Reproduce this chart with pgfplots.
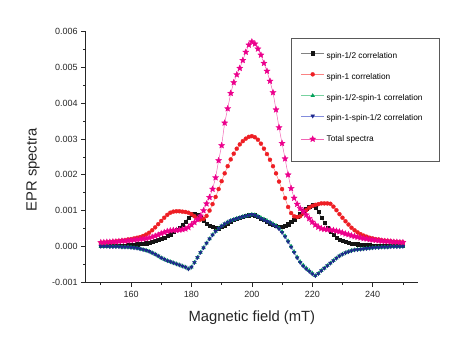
\documentclass[border=0pt]{standalone}
\usepackage{fontspec}
\setmainfont{Liberation Sans}
\usepackage{pgfplots}
\usepackage{pgfplotstable}
\pgfplotsset{compat=1.18}

\definecolor{mblack}{RGB}{20,20,20}
\definecolor{lblack}{RGB}{130,130,130}
\definecolor{mred}{RGB}{238,30,36}
\definecolor{lred}{RGB}{250,130,130}
\definecolor{mgreen}{RGB}{0,160,90}
\definecolor{lgreen}{RGB}{120,210,160}
\definecolor{mblue}{RGB}{30,40,140}
\definecolor{lblue}{RGB}{130,140,220}
\definecolor{mpink}{RGB}{236,0,140}
\definecolor{lpink}{RGB}{242,100,180}

% filled five-pointed star
\pgfdeclareplotmark{fstar}{%
  \pgfpathmoveto{\pgfpointpolar{90}{\pgfplotmarksize}}%
  \pgfpathlineto{\pgfpointpolar{126}{0.45\pgfplotmarksize}}%
  \pgfpathlineto{\pgfpointpolar{162}{\pgfplotmarksize}}%
  \pgfpathlineto{\pgfpointpolar{198}{0.45\pgfplotmarksize}}%
  \pgfpathlineto{\pgfpointpolar{234}{\pgfplotmarksize}}%
  \pgfpathlineto{\pgfpointpolar{270}{0.45\pgfplotmarksize}}%
  \pgfpathlineto{\pgfpointpolar{306}{\pgfplotmarksize}}%
  \pgfpathlineto{\pgfpointpolar{342}{0.45\pgfplotmarksize}}%
  \pgfpathlineto{\pgfpointpolar{18}{\pgfplotmarksize}}%
  \pgfpathlineto{\pgfpointpolar{54}{0.45\pgfplotmarksize}}%
  \pgfpathclose\pgfusepathqfillstroke}

% x  spin-1/2  spin-1  1/2-1  1-1/2  total
\pgfplotstableread{
x   B        R        G         U         T
150 0.00001 0.00010 0.00000 0.00000 0.00011
151 0.00001 0.00011 0.00000 0.00000 0.00011
152 0.00001 0.00011 0.00000 0.00000 0.00012
153 0.00001 0.00012 -0.00001 -0.00001 0.00012
154 0.00002 0.00013 -0.00001 -0.00001 0.00013
155 0.00002 0.00014 -0.00001 -0.00001 0.00013
156 0.00002 0.00015 -0.00001 -0.00001 0.00014
157 0.00003 0.00016 -0.00002 -0.00002 0.00015
158 0.00003 0.00017 -0.00002 -0.00002 0.00015
159 0.00004 0.00019 -0.00002 -0.00002 0.00016
160 0.00004 0.00020 -0.00003 -0.00003 0.00017
161 0.00005 0.00022 -0.00004 -0.00004 0.00018
162 0.00006 0.00024 -0.00005 -0.00005 0.00019
163 0.00007 0.00026 -0.00007 -0.00007 0.00020
164 0.00008 0.00029 -0.00009 -0.00009 0.00021
165 0.00009 0.00033 -0.00011 -0.00011 0.00022
166 0.00011 0.00038 -0.00014 -0.00014 0.00024
167 0.00013 0.00045 -0.00018 -0.00018 0.00026
168 0.00015 0.00053 -0.00022 -0.00022 0.00029
169 0.00018 0.00062 -0.00027 -0.00027 0.00032
170 0.00021 0.00071 -0.00032 -0.00032 0.00036
171 0.00025 0.00080 -0.00036 -0.00036 0.00039
172 0.00029 0.00088 -0.00040 -0.00040 0.00042
173 0.00034 0.00094 -0.00043 -0.00043 0.00044
174 0.00040 0.00097 -0.00046 -0.00046 0.00045
175 0.00046 0.00098 -0.00049 -0.00049 0.00045
176 0.00053 0.00098 -0.00052 -0.00052 0.00046
177 0.00061 0.00097 -0.00055 -0.00055 0.00047
178 0.00070 0.00096 -0.00058 -0.00058 0.00049
179 0.00080 0.00094 -0.00063 -0.00063 0.00053
180 0.00090 0.00090 -0.00058 -0.00058 0.00060
181 0.00092 0.00084 -0.00045 -0.00045 0.00067
182 0.00088 0.00078 -0.00031 -0.00031 0.00075
183 0.00080 0.00075 -0.00017 -0.00017 0.00085
184 0.00072 0.00077 -0.00004 -0.00004 0.00100
185 0.00064 0.00085 0.00009 0.00009 0.00119
186 0.00058 0.00100 0.00021 0.00021 0.00137
187 0.00054 0.00118 0.00032 0.00032 0.00160
188 0.00051 0.00138 0.00042 0.00042 0.00192
189 0.00051 0.00160 0.00050 0.00050 0.00240
190 0.00054 0.00182 0.00057 0.00057 0.00282
191 0.00059 0.00204 0.00063 0.00063 0.00345
192 0.00065 0.00224 0.00068 0.00068 0.00385
193 0.00070 0.00243 0.00072 0.00072 0.00428
194 0.00075 0.00259 0.00075 0.00075 0.00458
195 0.00078 0.00273 0.00078 0.00078 0.00480
196 0.00080 0.00285 0.00080 0.00080 0.00498
197 0.00083 0.00294 0.00083 0.00083 0.00520
198 0.00085 0.00301 0.00085 0.00085 0.00543
199 0.00087 0.00306 0.00087 0.00087 0.00563
200 0.00089 0.00308 0.00089 0.00089 0.00572
201 0.00087 0.00305 0.00088 0.00087 0.00566
202 0.00083 0.00298 0.00084 0.00083 0.00552
203 0.00078 0.00287 0.00080 0.00078 0.00535
204 0.00074 0.00273 0.00076 0.00074 0.00512
205 0.00069 0.00258 0.00072 0.00070 0.00490
206 0.00064 0.00242 0.00068 0.00066 0.00462
207 0.00060 0.00224 0.00063 0.00061 0.00430
208 0.00057 0.00204 0.00058 0.00056 0.00382
209 0.00056 0.00181 0.00051 0.00049 0.00332
210 0.00056 0.00160 0.00041 0.00039 0.00288
211 0.00058 0.00135 0.00029 0.00027 0.00245
212 0.00062 0.00110 0.00015 0.00013 0.00200
213 0.00068 0.00093 0.00000 -0.00002 0.00162
214 0.00075 0.00084 -0.00015 -0.00017 0.00135
215 0.00083 0.00082 -0.00030 -0.00032 0.00118
216 0.00092 0.00084 -0.00043 -0.00045 0.00106
217 0.00099 0.00092 -0.00053 -0.00055 0.00098
218 0.00106 0.00101 -0.00061 -0.00063 0.00088
219 0.00112 0.00108 -0.00068 -0.00070 0.00078
220 0.00115 0.00113 -0.00075 -0.00077 0.00068
221 0.00108 0.00116 -0.00082 -0.00082 0.00060
222 0.00096 0.00118 -0.00076 -0.00076 0.00054
223 0.00081 0.00120 -0.00068 -0.00068 0.00050
224 0.00066 0.00120 -0.00061 -0.00061 0.00048
225 0.00052 0.00120 -0.00054 -0.00054 0.00047
226 0.00041 0.00119 -0.00047 -0.00047 0.00046
227 0.00032 0.00111 -0.00040 -0.00040 0.00045
228 0.00025 0.00101 -0.00033 -0.00033 0.00043
229 0.00019 0.00090 -0.00027 -0.00027 0.00041
230 0.00015 0.00080 -0.00022 -0.00022 0.00038
231 0.00012 0.00070 -0.00018 -0.00018 0.00035
232 0.00010 0.00061 -0.00015 -0.00015 0.00033
233 0.00008 0.00052 -0.00012 -0.00012 0.00030
234 0.00007 0.00045 -0.00010 -0.00010 0.00028
235 0.00006 0.00039 -0.00009 -0.00009 0.00026
236 0.00005 0.00034 -0.00008 -0.00008 0.00024
237 0.00005 0.00030 -0.00007 -0.00007 0.00022
238 0.00004 0.00027 -0.00006 -0.00006 0.00021
239 0.00004 0.00024 -0.00005 -0.00005 0.00019
240 0.00003 0.00022 -0.00004 -0.00004 0.00018
241 0.00003 0.00020 -0.00003 -0.00003 0.00017
242 0.00003 0.00019 -0.00003 -0.00003 0.00016
243 0.00002 0.00017 -0.00002 -0.00002 0.00015
244 0.00002 0.00016 -0.00002 -0.00002 0.00014
245 0.00002 0.00015 -0.00002 -0.00002 0.00014
246 0.00002 0.00014 -0.00001 -0.00001 0.00013
247 0.00002 0.00013 -0.00001 -0.00001 0.00012
248 0.00001 0.00012 -0.00001 -0.00001 0.00012
249 0.00001 0.00012 -0.00001 -0.00001 0.00011
250 0.00001 0.00011 0.00000 0.00000 0.00011
}\epr

\begin{document}
\begin{tikzpicture}
\useasboundingbox (-85.7pt,-71.9pt) rectangle (377.3pt,282.1pt);
\begin{axis}[
  at={(0pt,0pt)}, anchor=south west,
  scale only axis,
  width=332.3pt, height=250.4pt,
  xmin=145, xmax=255,
  ymin=-0.001, ymax=0.006,
  axis x line=bottom, axis y line=left,
  axis line style={-, line width=0.7pt, black!85},
  tick align=outside,
  major tick length=4.5pt, minor tick length=2.5pt,
  tick style={line width=0.7pt, black!85},
  xtick={160,180,200,220,240},
  xticklabels={160,180,200,220,240},
  minor xtick={150,170,190,210,230,250},
  ytick={-0.001,0,0.001,0.002,0.003,0.004,0.005,0.006},
  yticklabels={-0.001,0.000,0.001,0.002,0.003,0.004,0.005,0.006},
  minor ytick={-0.0005,0.0005,0.0015,0.0025,0.0035,0.0045,0.0055},
  scaled y ticks=false,
  tick label style={font=\fontsize{9}{10}\selectfont, text=black!85},
  xticklabel style={yshift=-1.5pt},
  xlabel={Magnetic field (mT)},
  ylabel={EPR spectra},
  label style={font=\fontsize{14.8}{16}\selectfont, text=black!85},
  xlabel style={at={(axis description cs:0.5,-0.142)}, anchor=center},
  ylabel style={at={(axis description cs:-0.158,0.448)}, anchor=center},
  legend style={at={(0.617,0.974)}, anchor=north west,
    draw=black!65, line width=0.8pt, fill=white,
    font=\fontsize{8.3}{10}\selectfont,
    inner xsep=10pt, inner ysep=13pt, row sep=12.45pt,
    nodes={inner sep=0pt, text height=6pt, text depth=1.8pt},
    /tikz/every odd column/.append style={column sep=2.4pt}},
  legend cell align=left,
  legend image code/.code={\draw[mark repeat=2,mark phase=2,#1]
    plot coordinates {(0pt,2.8pt) (11.3pt,2.8pt) (22.6pt,2.8pt)};},
]
\addplot[lblack, line width=0.5pt, mark=square*, mark size=1.6pt,
  mark options={draw=mblack, fill=mblack, line width=0.3pt}]
  table[x=x, y=B] {\epr};
\addlegendentry{spin-1/2 correlation}
\addplot[lred, line width=0.5pt, mark=*, mark size=2pt,
  mark options={draw=mred, fill=mred, line width=0.3pt}]
  table[x=x, y=R] {\epr};
\addlegendentry{spin-1 correlation}
\addplot[lgreen, line width=0.5pt, mark=triangle*, mark size=2.2pt,
  mark options={draw=mgreen, fill=mgreen, line width=0.3pt}]
  table[x=x, y=G] {\epr};
\addlegendentry{spin-1/2-spin-1 correlation\hspace*{7pt}}
\addplot[lblue, line width=0.5pt, mark=triangle*, mark size=2.2pt,
  mark options={draw=mblue, fill=mblue, line width=0.3pt, rotate=180}]
  table[x=x, y=U] {\epr};
\addlegendentry{spin-1-spin-1/2 correlation}
\addplot[lpink, line width=0.5pt, mark=fstar, mark size=3.2pt,
  mark options={draw=mpink, fill=mpink, line width=0.3pt}]
  table[x=x, y=T] {\epr};
\addlegendentry[text depth=7.5pt]{Total spectra}
\end{axis}
\end{tikzpicture}
\end{document}
